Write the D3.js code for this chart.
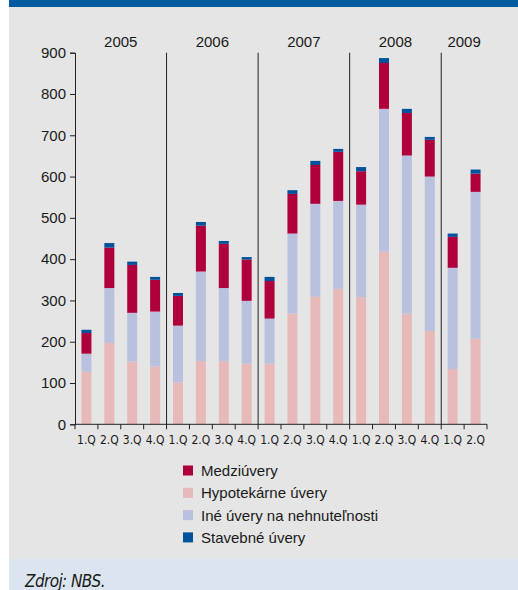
<!DOCTYPE html>
<html><head><meta charset="utf-8">
<script src="https://cdn.jsdelivr.net/npm/d3@7"></script>
<style>html,body{margin:0;padding:0;background:#fff;}svg{display:block;}</style>
</head><body>
<script>
const years = ["2005","2006","2007","2008","2009"];
const quarters = ["1.Q","2.Q","3.Q","4.Q","1.Q","2.Q","3.Q","4.Q","1.Q","2.Q","3.Q","4.Q","1.Q","2.Q","3.Q","4.Q","1.Q","2.Q"];
const quarterYears = ["2005","2005","2005","2005","2006","2006","2006","2006","2007","2007","2007","2007","2008","2008","2008","2008","2009","2009"];
const hypotekarne = [127,197,152,140,101,153,153,147,147,268,309,328,308,418,268,226,134,207];
const ine = [44,133,118,133,138,217,177,152,109,194,225,213,224,346,383,374,245,356];
const medziuvery = [50,98,116,77,72,111,107,100,91,96,94,119,81,111,103,89,75,44];
const stavebne = [8,11,8,7,7,9,7,6,10,9,10,7,10,12,10,7,8,10];
const yTicks = [0,100,200,300,400,500,600,700,800,900];
const seriesNames = ["Hypotekárne úvery","Iné úvery na nehnuteľnosti","Medziúvery","Stavebné úvery"];
const legendOrder = ["Medziúvery","Hypotekárne úvery","Iné úvery na nehnuteľnosti","Stavebné úvery"];
const colors = {"Hypotekárne úvery":"#e8b9b9","Iné úvery na nehnuteľnosti":"#b9c1de","Medziúvery":"#b0003c","Stavebné úvery":"#00529b"};

const FONT="'Liberation Sans', Arial, sans-serif";
const NARROW="'Liberation Sans Narrow', 'DejaVu Sans Condensed', sans-serif";
const W=518,H=590;
const svg=d3.select("body").append("svg").attr("width",W).attr("height",H);
svg.append("rect").attr("x",9).attr("y",0).attr("width",W-9).attr("height",559).attr("fill","#e5e5e5");
svg.append("rect").attr("x",9).attr("y",0).attr("width",W-9).attr("height",7).attr("fill","#005aa0");
svg.append("rect").attr("x",9).attr("y",559).attr("width",W-9).attr("height",31).attr("fill","#dce5ef");
svg.append("text").attr("x",25).attr("y",587).text("Zdroj: NBS.")
  .attr("font-family",NARROW).attr("font-style","italic").attr("font-size",17).attr("letter-spacing",-0.6).attr("fill","#1a1a1a");

const x0=75,x1=487,yb=424.3,yt=52.7;
const idx=d3.range(quarters.length);
const x=d3.scaleBand().domain(idx).range([x0,x1]).paddingInner(0).paddingOuter(0);
const y=d3.scaleLinear().domain([0,900]).range([yb,yt]);
const bw=10;

const rows=idx.map(i=>({i,"Hypotekárne úvery":hypotekarne[i],"Iné úvery na nehnuteľnosti":ine[i],"Medziúvery":medziuvery[i],"Stavebné úvery":stavebne[i]}));
const stack=d3.stack().keys(seriesNames)(rows);
const g=svg.append("g");
stack.forEach(s=>{
  g.selectAll(null).data(s).enter().append("rect")
   .attr("x",d=>x(d.data.i)+x.bandwidth()/2-bw/2)
   .attr("width",bw)
   .attr("y",d=>y(d[1]))
   .attr("height",d=>y(d[0])-y(d[1]))
   .attr("fill",colors[s.key]);
});

// year separators
years.forEach((yr,k)=>{
  if(k===0) return;
  const first=quarterYears.indexOf(yr);
  const xs=x(first);
  svg.append("line").attr("x1",xs).attr("x2",xs).attr("y1",yt).attr("y2",yb).attr("stroke","#222").attr("stroke-width",1);
});
// year labels
years.forEach(yr=>{
  const first=quarterYears.indexOf(yr), last=quarterYears.lastIndexOf(yr);
  const cx=(x(first)+x(last)+x.bandwidth())/2;
  svg.append("text").attr("x",cx).attr("y",47).attr("text-anchor","middle").text(yr)
    .attr("font-family",FONT).attr("font-size",15).attr("fill","#1a1a1a");
});

// y axis
const yAxis=svg.append("g").attr("transform",`translate(${x0},0)`)
  .call(d3.axisLeft(y).tickValues(yTicks).tickSize(5).tickPadding(4));
yAxis.select(".domain").attr("stroke","#222");
yAxis.selectAll(".tick line").attr("stroke","#222");
yAxis.selectAll("text").attr("font-family",FONT).attr("font-size",15).attr("fill","#1a1a1a");

// x axis
const xAxis=svg.append("g").attr("transform",`translate(0,${yb})`);
xAxis.append("line").attr("x1",x0).attr("x2",x1).attr("y1",0).attr("y2",0).attr("stroke","#222");
const bounds=idx.map(i=>x(i)).concat([x1]);
xAxis.selectAll(null).data(bounds).enter().append("line")
  .attr("x1",d=>d).attr("x2",d=>d).attr("y1",0).attr("y2",5).attr("stroke","#222");
xAxis.selectAll(null).data(idx).enter().append("text")
  .attr("x",i=>x(i)+x.bandwidth()/2).attr("y",19.5).attr("text-anchor","middle")
  .text(i=>quarters[i])
  .attr("font-family",NARROW).attr("font-size",12).attr("fill","#1a1a1a");

// legend
const lg=svg.append("g");
legendOrder.forEach((name,k)=>{
  const cy=470.5+k*22.3;
  lg.append("rect").attr("x",183).attr("y",cy-5).attr("width",10).attr("height",10).attr("fill",colors[name]);
  lg.append("text").attr("x",201).attr("y",cy+5.5).text(name)
    .attr("font-family",FONT).attr("font-size",15).attr("fill","#1a1a1a");
});
</script>
</body></html>
